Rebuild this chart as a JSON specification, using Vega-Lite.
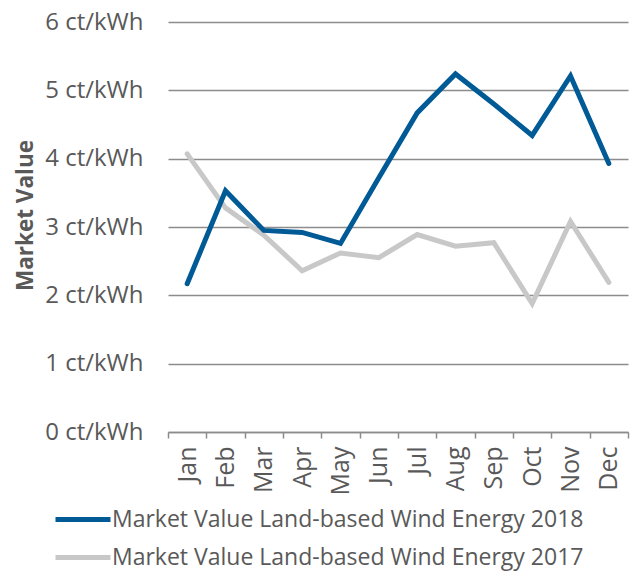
{
  "$schema": "https://vega.github.io/schema/vega-lite/v6.json",
  "width": 460,
  "height": 410,
  "autosize": "none",
  "padding": {"left": 168, "top": 22, "right": 7, "bottom": 140},
  "background": "white",
  "config": {"view": {"stroke": null}, "font": "Open Sans"},
  "data": {
    "values": [
      {"month": "Jan", "series": "Market Value Land-based Wind Energy 2017", "value": 4.07},
      {"month": "Feb", "series": "Market Value Land-based Wind Energy 2017", "value": 3.28},
      {"month": "Mar", "series": "Market Value Land-based Wind Energy 2017", "value": 2.88},
      {"month": "Apr", "series": "Market Value Land-based Wind Energy 2017", "value": 2.36},
      {"month": "May", "series": "Market Value Land-based Wind Energy 2017", "value": 2.62},
      {"month": "Jun", "series": "Market Value Land-based Wind Energy 2017", "value": 2.55},
      {"month": "Jul", "series": "Market Value Land-based Wind Energy 2017", "value": 2.89},
      {"month": "Aug", "series": "Market Value Land-based Wind Energy 2017", "value": 2.72},
      {"month": "Sep", "series": "Market Value Land-based Wind Energy 2017", "value": 2.77},
      {"month": "Oct", "series": "Market Value Land-based Wind Energy 2017", "value": 1.88},
      {"month": "Nov", "series": "Market Value Land-based Wind Energy 2017", "value": 3.08},
      {"month": "Dec", "series": "Market Value Land-based Wind Energy 2017", "value": 2.19},
      {"month": "Jan", "series": "Market Value Land-based Wind Energy 2018", "value": 2.17},
      {"month": "Feb", "series": "Market Value Land-based Wind Energy 2018", "value": 3.53},
      {"month": "Mar", "series": "Market Value Land-based Wind Energy 2018", "value": 2.95},
      {"month": "Apr", "series": "Market Value Land-based Wind Energy 2018", "value": 2.92},
      {"month": "May", "series": "Market Value Land-based Wind Energy 2018", "value": 2.76},
      {"month": "Jun", "series": "Market Value Land-based Wind Energy 2018", "value": 3.72},
      {"month": "Jul", "series": "Market Value Land-based Wind Energy 2018", "value": 4.67},
      {"month": "Aug", "series": "Market Value Land-based Wind Energy 2018", "value": 5.24},
      {"month": "Sep", "series": "Market Value Land-based Wind Energy 2018", "value": 4.8},
      {"month": "Oct", "series": "Market Value Land-based Wind Energy 2018", "value": 4.34},
      {"month": "Nov", "series": "Market Value Land-based Wind Energy 2018", "value": 5.21},
      {"month": "Dec", "series": "Market Value Land-based Wind Energy 2018", "value": 3.93}
    ]
  },
  "mark": {"type": "line", "strokeWidth": 5, "strokeCap": "round", "strokeJoin": "miter"},
  "encoding": {
    "x": {
      "field": "month",
      "type": "ordinal",
      "sort": ["Jan","Feb","Mar","Apr","May","Jun","Jul","Aug","Sep","Oct","Nov","Dec"],
      "bandPosition": 0.5,
      "scale": {"type": "band", "paddingInner": 0, "paddingOuter": 0},
      "axis": {
        "title": null,
        "tickBand": "extent",
        "ticks": true,
        "tickSize": 6,
        "tickColor": "#8c8c8c",
        "tickWidth": 1.5,
        "domainColor": "#8c8c8c",
        "domainWidth": 1.5,
        "labelAngle": 270,
        "labelFontSize": 25,
        "labelColor": "#595959",
        "labelPadding": 8,
        "grid": false
      }
    },
    "y": {
      "field": "value",
      "type": "quantitative",
      "scale": {"domain": [0, 6], "nice": false},
      "axis": {
        "values": [0, 1, 2, 3, 4, 5, 6],
        "labelExpr": "datum.value + ' ct/kWh'",
        "labelFontSize": 24,
        "labelColor": "#595959",
        "labelPadding": 25,
        "ticks": false,
        "domain": false,
        "grid": true,
        "gridColor": "#8c8c8c",
        "gridWidth": 1.5,
        "title": "Market Value",
        "titleFontSize": 22.5,
        "titleFontWeight": "bold",
        "titleColor": "#595959",
        "titleAngle": -90,
        "titleAlign": "center",
        "titleBaseline": "middle",
        "titleX": -143,
        "titleY": 193
      }
    },
    "color": {
      "field": "series",
      "type": "nominal",
      "scale": {
        "domain": ["Market Value Land-based Wind Energy 2018", "Market Value Land-based Wind Energy 2017"],
        "range": ["#005a96", "#c8c8c8"]
      },
      "legend": {
        "title": null,
        "orient": "none",
        "legendX": -98.5,
        "legendY": 484,
        "symbolType": "M-2.5,0H2.5",
        "symbolSize": 484,
        "symbolStrokeWidth": 5,
        "symbolStrokeCap": "round",
        "labelFontSize": 23,
        "labelLimit": 700,
        "labelColor": "#595959",
        "labelOffset": 15.5,
        "rowPadding": 12,
        "padding": 0
      }
    }
  }
}
